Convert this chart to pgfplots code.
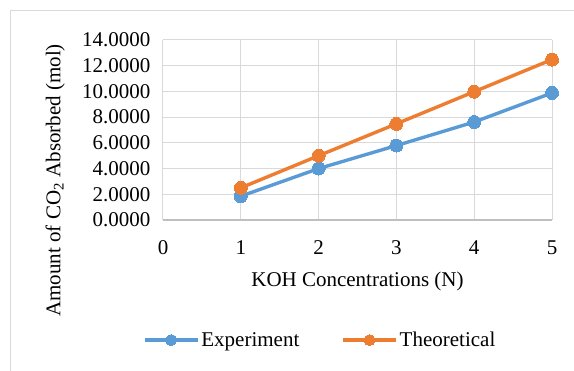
\documentclass[border=0pt]{standalone}
\usepackage{pgfplots}
\pgfplotsset{compat=1.18}
\usepackage{fontspec}
\setmainfont{Liberation Serif}
\definecolor{expblue}{HTML}{5B9BD5}
\definecolor{theoorange}{HTML}{ED7D31}
\definecolor{gridgray}{HTML}{D9D9D9}
\definecolor{axisgray}{HTML}{BFBFBF}
\newcommand{\bigfont}{\fontsize{21}{25}\selectfont}
\begin{document}
\begin{tikzpicture}
\path[use as bounding box] (0pt,0pt) rectangle (574pt,-371pt);
\draw[gridgray, line width=1pt] (10pt,-371pt) -- (10pt,-11pt) -- (574pt,-11pt);
\begin{axis}[
  at={(163pt,-220pt)}, anchor=south west,
  scale only axis, width=389pt, height=180pt,
  xmin=0, xmax=5, ymin=0, ymax=14,
  xtick={0,1,2,3,4,5}, ytick={0,2,4,6,8,10,12,14},
  major tick length=0pt,
  axis lines*=left,
  axis line style={-},
  x axis line style={draw=axisgray, line width=1.2pt},
  y axis line style={draw=gridgray, line width=1pt},
  grid=major,
  major grid style={draw=gridgray, line width=1pt},
  tick label style={font=\bigfont},
  label style={font=\bigfont},
  yticklabel style={/pgf/number format/.cd, fixed, fixed zerofill, precision=4, assume math mode=true, /tikz/.cd, xshift=-9pt},
  xticklabel style={/pgf/number format/assume math mode=true, yshift=-17pt},
  xlabel={KOH Concentrations (N)},
  xlabel style={at={(rel axis cs:0.5,0)}, anchor=center, yshift=-61pt},
  ylabel={Amount of CO\textsubscript{2} Absorbed (mol)},
  ylabel style={at={(axis description cs:-0.277,0.22)}, anchor=center},
  legend columns=2,
  legend style={at={(rel axis cs:0.404,-0.667)}, anchor=center, draw=none, fill=none, font=\bigfont,
    /tikz/every even column/.append style={column sep=40pt}},
  legend image code/.code={\draw[#1, mark size=5.5pt, mark repeat=2, mark phase=2] plot coordinates {(0pt,0pt) (26.5pt,0pt) (53pt,0pt)};},
]
\addplot[color=expblue, line width=3.4pt, mark=*, mark size=6.5pt, mark options={fill=expblue, draw=expblue, line width=0pt}]
  coordinates {(1,1.85) (2,4.00) (3,5.79) (4,7.62) (5,9.88)};
\addlegendentry{Experiment}
\addplot[color=theoorange, line width=3.4pt, mark=*, mark size=6.5pt, mark options={fill=theoorange, draw=theoorange, line width=0pt}]
  coordinates {(1,2.50) (2,5.00) (3,7.48) (4,9.98) (5,12.48)};
\addlegendentry{Theoretical}
\end{axis}
\end{tikzpicture}
\end{document}
